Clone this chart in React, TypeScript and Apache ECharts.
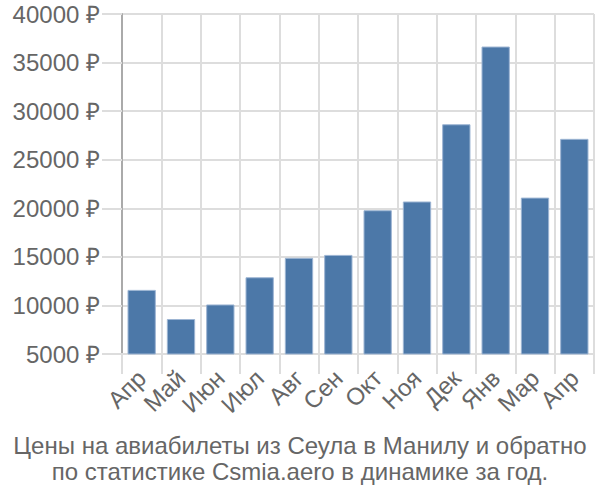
import React, { useEffect, useRef } from "react";
import * as echarts from "echarts";

const categories = ["Апр", "Май", "Июн", "Июл", "Авг", "Сен", "Окт", "Ноя", "Дек", "Янв", "Мар", "Апр"];
const prices = [11600, 8600, 10100, 12900, 14900, 15200, 19800, 20700, 28650, 36650, 21100, 27150];
const yMin = 5000;
const yMax = 40000;
const yStep = 5000;
const titleLines = [
  "Цены на авиабилеты из Сеула в Манилу и обратно",
  "по статистике Csmia.aero в динамике за год.",
];

export default function App() {
  const ref = useRef<HTMLDivElement>(null);
  useEffect(() => {
    document.body.style.margin = "0";
    if (!ref.current) return;
    const chart = echarts.init(ref.current, null, { renderer: "svg" });
    const font = "Liberation Sans";
    const fs = 24;
    chart.setOption({
      animation: false,
      textStyle: { fontFamily: font },
      title: titleLines.map((t, i) => ({
        text: t,
        left: "center",
        top: 433 + i * 26,
        padding: 0,
        textStyle: { fontFamily: font, fontSize: fs, fontWeight: "normal", color: "#666" },
      })),
      grid: { left: 122, right: 6, top: 14, bottom: 146 },
      xAxis: {
        type: "category",
        data: categories,
        boundaryGap: true,
        axisLine: { show: true, lineStyle: { color: "#ddd", width: 2 } },
        axisTick: { show: true, length: 20, lineStyle: { color: "#ddd", width: 2 } },
        splitLine: { show: true, lineStyle: { color: "#ddd", width: 2 } },
        axisLabel: { rotate: 45, fontSize: fs, color: "#666", margin: 20, fontFamily: font, interval: 0 },
      },
      yAxis: {
        type: "value",
        min: yMin,
        max: yMax,
        interval: yStep,
        axisLine: { show: true, lineStyle: { color: "#aaa", width: 2 } },
        axisTick: { show: true, length: 20, lineStyle: { color: "#ddd", width: 2 } },
        splitLine: { show: true, lineStyle: { color: "#ddd", width: 2 } },
        axisLabel: { fontSize: fs, color: "#666", margin: 22, fontFamily: font, formatter: (v: number) => `${v} ₽` },
      },
      series: [
        {
          type: "bar",
          data: prices,
          barWidth: "72%",
          itemStyle: { color: "#4c78a8", borderColor: "#9db5d3", borderWidth: 1 },
        },
      ],
    });
    return () => chart.dispose();
  }, []);
  return <div ref={ref} style={{ width: 600, height: 500 }} />;
}
